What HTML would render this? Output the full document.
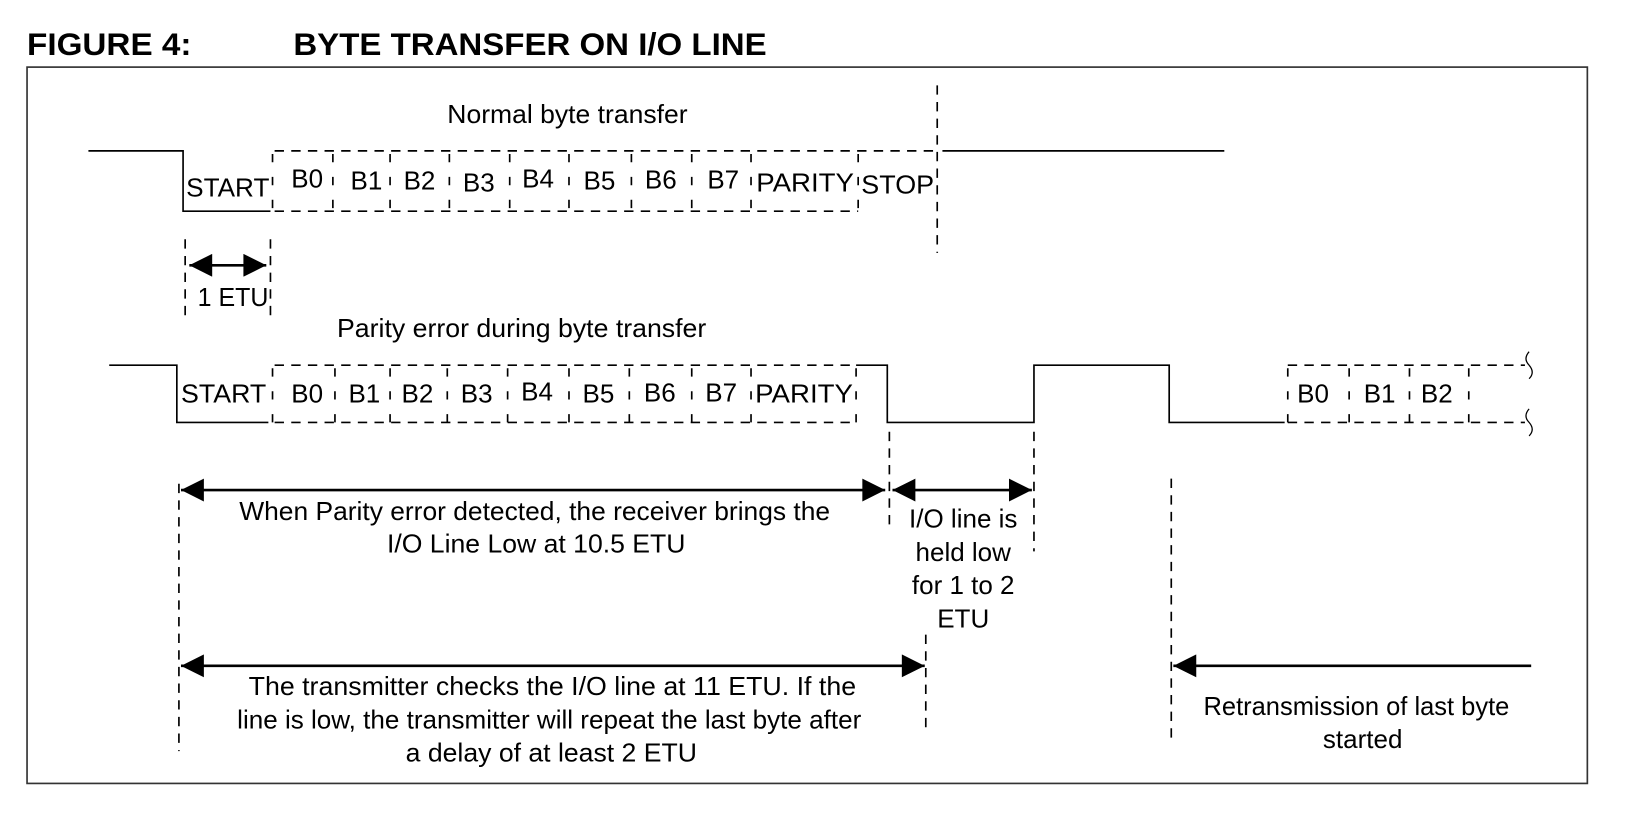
<!DOCTYPE html>
<html><head><meta charset="utf-8"><style>html,body{margin:0;padding:0;background:#fff}svg{display:block}</style></head>
<body>
<svg width="1630" height="824" viewBox="0 0 1567 792" preserveAspectRatio="none" xmlns="http://www.w3.org/2000/svg" font-family="Liberation Sans, Arial, sans-serif">
<defs>
<marker id="b" viewBox="0 0 10 10" refX="10" refY="5" markerWidth="28" markerHeight="22" markerUnits="userSpaceOnUse" orient="auto-start-reverse"><path d="M0,0L10,5L0,10z" fill="#000"/></marker>
</defs>
<g font-weight="bold" font-size="30" fill="#000">
<text x="26" y="53" textLength="158" lengthAdjust="spacingAndGlyphs">FIGURE 4:</text>
<text x="282" y="53" textLength="455" lengthAdjust="spacingAndGlyphs">BYTE TRANSFER ON I/O LINE</text>
</g>
<rect x="26" y="64.5" width="1500" height="688.5" fill="none" stroke="#333" stroke-width="1.6"/>
<g stroke="#000" stroke-width="1.6" fill="none">
<polyline points="85,145 176,145 176,203 260,203"/>
<line x1="906" y1="145" x2="1177" y2="145"/>
<g stroke-dasharray="9,7">
<line x1="264" y1="145" x2="900" y2="145"/>
<line x1="264" y1="203" x2="825" y2="203"/>
<line x1="901" y1="82" x2="901" y2="243"/>
<line x1="178" y1="230" x2="178" y2="305"/>
<line x1="260" y1="230" x2="260" y2="305"/>
</g>
<g stroke-dasharray="8,14">
<line x1="262" y1="148" x2="262" y2="203"/><line x1="320" y1="148" x2="320" y2="203"/><line x1="375" y1="148" x2="375" y2="203"/><line x1="432" y1="148" x2="432" y2="203"/><line x1="490" y1="148" x2="490" y2="203"/><line x1="547" y1="148" x2="547" y2="203"/><line x1="607" y1="148" x2="607" y2="203"/><line x1="665" y1="148" x2="665" y2="203"/><line x1="722" y1="148" x2="722" y2="203"/><line x1="825" y1="148" x2="825" y2="203"/>
</g>
<line x1="182" y1="255" x2="256" y2="255" marker-start="url(#b)" marker-end="url(#b)" stroke-width="2.5"/>
<polyline points="105,351 170,351 170,406 258,406"/>
<polyline points="823,351 853,351 853,406 994,406 994,351 1124,351 1124,406 1235,406"/>
<g stroke-dasharray="9,7">
<line x1="264" y1="351" x2="823" y2="351"/>
<line x1="264" y1="406" x2="823" y2="406"/>
<line x1="1238" y1="351" x2="1466" y2="351"/>
<line x1="1238" y1="406" x2="1466" y2="406"/>
<line x1="172" y1="465" x2="172" y2="722"/>
<line x1="855" y1="415" x2="855" y2="510"/>
<line x1="994" y1="415" x2="994" y2="530"/>
<line x1="890" y1="610" x2="890" y2="700"/>
<line x1="1126" y1="460" x2="1126" y2="712"/>
</g>
<g stroke-dasharray="8,14">
<line x1="262" y1="354" x2="262" y2="406"/><line x1="322" y1="354" x2="322" y2="406"/><line x1="375" y1="354" x2="375" y2="406"/><line x1="430" y1="354" x2="430" y2="406"/><line x1="488" y1="354" x2="488" y2="406"/><line x1="547" y1="354" x2="547" y2="406"/><line x1="605" y1="354" x2="605" y2="406"/><line x1="665" y1="354" x2="665" y2="406"/><line x1="722" y1="354" x2="722" y2="406"/><line x1="823" y1="354" x2="823" y2="406"/>
<line x1="1238" y1="354" x2="1238" y2="406"/><line x1="1297" y1="354" x2="1297" y2="406"/><line x1="1355" y1="354" x2="1355" y2="406"/><line x1="1412" y1="354" x2="1412" y2="406"/>
</g>
<path d="M1470,338 q-6,7 0,13 q6,7 0,13" stroke-width="1.2"/>
<path d="M1470,393 q-6,7 0,13 q6,7 0,13" stroke-width="1.2"/>
<line x1="174" y1="471" x2="851" y2="471" marker-start="url(#b)" marker-end="url(#b)" stroke-width="2.5"/>
<line x1="858" y1="471" x2="992" y2="471" marker-start="url(#b)" marker-end="url(#b)" stroke-width="2.5"/>
<line x1="174" y1="640" x2="889" y2="640" marker-start="url(#b)" marker-end="url(#b)" stroke-width="2.5"/>
<line x1="1472" y1="640" x2="1128" y2="640" marker-end="url(#b)" stroke-width="2.5"/>
</g>
<g font-size="25" fill="#000">
<text x="430" y="118" textLength="231" lengthAdjust="spacingAndGlyphs">Normal byte transfer</text>
<text x="179" y="189" textLength="80" lengthAdjust="spacingAndGlyphs">START</text>
<text x="280" y="180">B0</text><text x="337" y="182">B1</text><text x="388" y="182">B2</text><text x="445" y="184">B3</text><text x="502" y="180">B4</text><text x="561" y="182">B5</text><text x="620" y="181">B6</text><text x="680" y="181">B7</text><text x="727" y="184" textLength="94" lengthAdjust="spacingAndGlyphs">PARITY</text><text x="828" y="186" textLength="70" lengthAdjust="spacingAndGlyphs">STOP</text>
<text x="190" y="294" textLength="68" lengthAdjust="spacingAndGlyphs">1 ETU</text>
<text x="324" y="324" textLength="355" lengthAdjust="spacingAndGlyphs">Parity error during byte transfer</text>
<text x="174" y="387" textLength="82" lengthAdjust="spacingAndGlyphs">START</text>
<text x="280" y="387">B0</text><text x="335" y="387">B1</text><text x="386" y="387">B2</text><text x="443" y="387">B3</text><text x="501" y="385">B4</text><text x="560" y="387">B5</text><text x="619" y="386">B6</text><text x="678" y="386">B7</text><text x="726" y="387" textLength="94" lengthAdjust="spacingAndGlyphs">PARITY</text>
<text x="1247" y="387">B0</text><text x="1311" y="387">B1</text><text x="1366" y="387">B2</text>
<text x="230" y="500" textLength="568" lengthAdjust="spacingAndGlyphs">When Parity error detected, the receiver brings the</text>
<text x="372" y="531" textLength="287" lengthAdjust="spacingAndGlyphs">I/O Line Low at 10.5 ETU</text>
<text x="926" y="507" text-anchor="middle">I/O line is</text>
<text x="926" y="539" text-anchor="middle">held low</text>
<text x="926" y="571" text-anchor="middle">for 1 to 2</text>
<text x="926" y="603" text-anchor="middle">ETU</text>
<text x="239" y="668" textLength="584" lengthAdjust="spacingAndGlyphs">The transmitter checks the I/O line at 11 ETU. If the</text>
<text x="228" y="700" textLength="600" lengthAdjust="spacingAndGlyphs">line is low, the transmitter will repeat the last byte after</text>
<text x="390" y="732" textLength="280" lengthAdjust="spacingAndGlyphs">a delay of at least 2 ETU</text>
<text x="1157" y="687" textLength="294" lengthAdjust="spacingAndGlyphs">Retransmission of last byte</text>
<text x="1310" y="719" text-anchor="middle">started</text>
</g>
</svg>
</body></html>
